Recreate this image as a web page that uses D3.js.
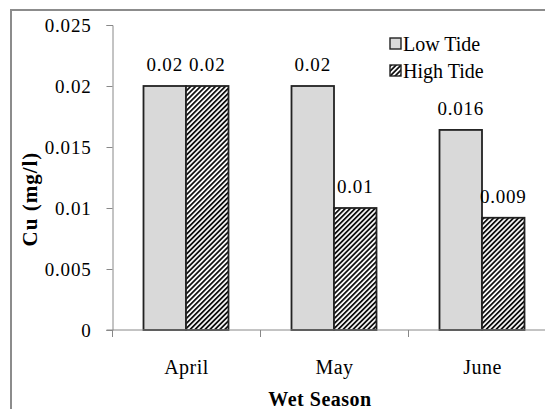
<!DOCTYPE html>
<html>
<head>
<meta charset="utf-8">
<script src="https://cdn.jsdelivr.net/npm/d3@7"></script>
<style>
  body { margin: 0; background: #fff; }
  svg { display: block; }
  svg text { font-family: "Liberation Serif", "DejaVu Serif", serif; }
</style>
</head>
<body>
<div id="chart"></div>
<script>
// chart data
var months = ["April", "May", "June"];
var seriesNames = ["Low Tide", "High Tide"];
var lowTide = [0.02, 0.02, 0.0164];
var highTide = [0.02, 0.01, 0.0092];
var lowLabels = ["0.02", "0.02", "0.016"];
var highLabels = ["0.02", "0.01", "0.009"];
var yTicks = [0, 0.005, 0.01, 0.015, 0.02, 0.025];

var serif = "'Liberation Serif', 'DejaVu Serif', serif";
var width = 545, height = 409;
var svg = d3.select("#chart").append("svg")
    .attr("width", width)
    .attr("height", height)
    .attr("font-family", serif);

var defs = svg.append("defs");
var hatch = defs.append("pattern")
    .attr("id", "hatch")
    .attr("patternUnits", "userSpaceOnUse")
    .attr("width", 3.5)
    .attr("height", 3.5)
    .attr("patternTransform", "rotate(45)");
hatch.append("rect").attr("width", 3.5).attr("height", 3.5).attr("fill", "#fff");
hatch.append("rect").attr("width", 1.8).attr("height", 3.5).attr("fill", "#111");

// outer chart border (cropped at right / bottom)
svg.append("rect")
    .attr("x", 11).attr("y", 10)
    .attr("width", 600).attr("height", 500)
    .attr("fill", "none")
    .attr("stroke", "#8c8c8c")
    .attr("stroke-width", 2);

var x0 = d3.scaleBand()
    .domain(months)
    .range([112.5, 112.5 + 148 * 3])
    .paddingInner(0)
    .paddingOuter(0);

var x1 = d3.scaleBand()
    .domain(seriesNames)
    .range([31, 148 - 32]);

var y = d3.scaleLinear()
    .domain([0, 0.025])
    .range([330, 25]);

// y axis
var yAxis = svg.append("g")
    .attr("transform", "translate(" + x0.range()[0] + ",0)")
    .call(d3.axisLeft(y).tickValues(yTicks).tickSize(6).tickPadding(15)
        .tickFormat(function (d) { return d === 0 ? "0" : String(+d.toFixed(3)); }));
yAxis.attr("font-family", serif).attr("font-size", 19);
yAxis.select(".domain").attr("stroke", "#888");
yAxis.selectAll(".tick line").attr("stroke", "#888");
yAxis.selectAll(".tick text").attr("fill", "#000").attr("letter-spacing", "0.8px");

// bars
var groups = svg.append("g").selectAll("g")
    .data(months)
    .enter().append("g")
    .attr("transform", function (d) { return "translate(" + x0(d) + ",0)"; });

var barData = function (m, i) {
    return [
        { key: "Low Tide", value: lowTide[i], label: lowLabels[i] },
        { key: "High Tide", value: highTide[i], label: highLabels[i] }
    ];
};

groups.selectAll("rect")
    .data(barData)
    .enter().append("rect")
    .attr("x", function (d) { return x1(d.key); })
    .attr("y", function (d) { return y(d.value); })
    .attr("width", x1.bandwidth())
    .attr("height", function (d) { return y(0) - y(d.value); })
    .attr("fill", function (d) { return d.key === "Low Tide" ? "#d9d9d9" : "url(#hatch)"; })
    .attr("stroke", "#222")
    .attr("stroke-width", 1.8);

groups.selectAll("text.lbl")
    .data(barData)
    .enter().append("text")
    .attr("class", "lbl")
    .attr("x", function (d) { return x1(d.key) + x1.bandwidth() / 2; })
    .attr("y", function (d) { return y(d.value) - 15; })
    .attr("text-anchor", "middle")
    .attr("font-size", "19px")
    .attr("letter-spacing", "0.8px")
    .text(function (d) { return d.label; });

// x axis
var xAxisG = svg.append("g")
    .attr("transform", "translate(0," + y(0) + ")");
xAxisG.append("line")
    .attr("x1", x0.range()[0] - 6).attr("x2", width)
    .attr("stroke", "#888");
xAxisG.selectAll("line.tick")
    .data(months)
    .enter().append("line")
    .attr("class", "tick")
    .attr("x1", function (d) { return x0(d); })
    .attr("x2", function (d) { return x0(d); })
    .attr("y1", 0).attr("y2", 7)
    .attr("stroke", "#888");
xAxisG.selectAll("text")
    .data(months)
    .enter().append("text")
    .attr("x", function (d) { return x0(d) + x0.bandwidth() / 2; })
    .attr("y", 44)
    .attr("text-anchor", "middle")
    .attr("font-size", "20px")
    .attr("letter-spacing", "0.5px")
    .text(function (d) { return d; });

// axis titles
svg.append("text")
    .attr("x", 320).attr("y", 406)
    .attr("text-anchor", "middle")
    .attr("font-size", "20px")
    .attr("font-weight", "bold")
    .attr("letter-spacing", "0.5px")
    .text("Wet Season");

svg.append("text")
    .attr("transform", "translate(37,199) rotate(-90)")
    .attr("text-anchor", "middle")
    .attr("font-size", "21px")
    .attr("font-weight", "bold")
    .attr("letter-spacing", "1px")
    .text("Cu (mg/l)");

// legend
var legend = svg.append("g").selectAll("g")
    .data(seriesNames)
    .enter().append("g")
    .attr("transform", function (d, i) { return "translate(390," + (38 + i * 27) + ")"; });
legend.append("rect")
    .attr("width", 11).attr("height", 11)
    .attr("fill", function (d) { return d === "Low Tide" ? "#d9d9d9" : "url(#hatch)"; })
    .attr("stroke", "#222")
    .attr("stroke-width", 1.4);
legend.append("text")
    .attr("x", 13).attr("y", 13)
    .attr("font-size", "20px")
    .text(function (d) { return d; });
</script>
</body>
</html>
